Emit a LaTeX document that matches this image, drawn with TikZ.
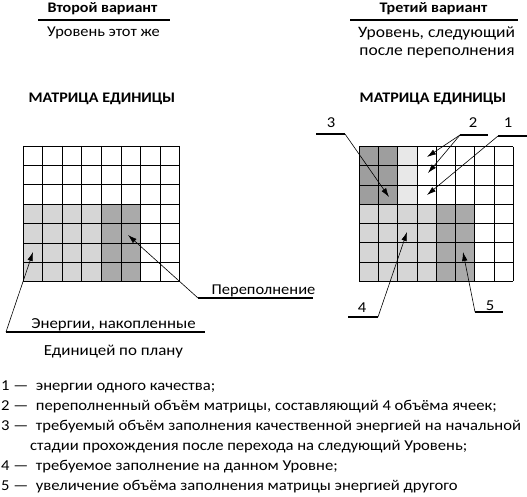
\documentclass[tikz,border=0pt]{standalone}
\usepackage{fontspec}
\setmainfont{Carlito}[FakeStretch=1.1]
\usetikzlibrary{arrows.meta}
\definecolor{cdark}{HTML}{9E9E9E}
\definecolor{cmid}{HTML}{AAAAAA}
\definecolor{clight}{HTML}{D6D6D6}
\definecolor{cpale}{HTML}{E8E8E8}
\newcommand{\fs}[1]{\fontsize{#1}{#1}\selectfont}
\begin{document}
\begin{tikzpicture}[x=1pt,y=-1pt,
  txt/.style={inner sep=0pt, font=\fs{15.1}},
  btxt/.style={inner sep=0pt, font=\fs{14.6}\bfseries},
  gridline/.style={line width=0.8pt, black},
  ptr/.style={-{Latex[length=9pt,width=5.5pt]}, line width=0.6pt},
  uline/.style={line width=1.3pt}]
\useasboundingbox (0,0) rectangle (527,497);

% ---------- headings ----------
\node[btxt, anchor=base] (h2) at (102.5,13) {Второй вариант};
\coordinate (h2a) at (38,20); \coordinate (h2b) at (170,20);
\draw[uline] (h2a) -- (h2b);
\node[txt, anchor=base, font=\fs{14.9}] (s2) at (103.5,37) {Уровень этот же};

\node[btxt, anchor=base] (h3) at (433.5,13) {Третий вариант};
\coordinate (h3a) at (350,20); \coordinate (h3b) at (518,20);
\draw[uline] (h3a) -- (h3b);
\node[txt, anchor=base, font=\fs{15.9}] (s3a) at (436.5,38) {Уровень, следующий};
\node[txt, anchor=base, font=\fs{15.9}] (s3b) at (437,56) {после переполнения};

\node[btxt, anchor=base] (m2) at (102,103) {МАТРИЦА ЕДИНИЦЫ};
\node[btxt, anchor=base] (m3) at (433,103) {МАТРИЦА ЕДИНИЦЫ};

% ---------- left grid ----------
\def\LX{23}\def\LY{146}\def\LW{19.6}\def\LH{19.4}
\fill[clight] (\LX,\LY+3*\LH) rectangle (\LX+4*\LW,\LY+7*\LH);
\fill[cmid] (\LX+4*\LW,\LY+3*\LH) rectangle (\LX+6*\LW,\LY+7*\LH);
\foreach \i in {0,...,8} \draw[gridline] (\LX+\i*\LW,\LY) -- (\LX+\i*\LW,\LY+7*\LH);
\foreach \j in {0,...,7} \draw[gridline] (\LX,\LY+\j*\LH) -- (\LX+8*\LW,\LY+\j*\LH);
\draw[line width=1.6pt] (\LX+6*\LW,\LY+3*\LH) -- (\LX+6*\LW,\LY+7*\LH);

\coordinate (tOver) at (128,235);
\coordinate (tEn) at (33,252);

\node[txt, anchor=base, font=\fs{15}] (lOver) at (263.5,294) {Переполнение};
\coordinate (oa) at (198,298); \coordinate (ob) at (313,298);
\draw[uline] (oa) -- (ob);
\draw[ptr] (oa) -- (tOver);

\node[txt, anchor=base, font=\fs{15.3}] (lEn) at (113.5,328) {Энергии, накопленные};
\coordinate (ea) at (6,332); \coordinate (eb) at (205,332);
\draw[uline] (ea) -- (eb);
\draw[ptr] (ea) -- (tEn);
\node[txt, anchor=base, font=\fs{15.4}] (lEn2) at (113.5,355) {Единицей по плану};

% ---------- right grid ----------
\def\RX{359.3}\def\RY{146.7}\def\RW{19.25}\def\RH{19.2}
\fill[cdark] (\RX,\RY) rectangle (\RX+2*\RW,\RY+3*\RH);
\fill[cpale] (\RX+2*\RW,\RY) rectangle (\RX+3*\RW,\RY+3*\RH);
\fill[clight] (\RX,\RY+3*\RH) rectangle (\RX+4*\RW,\RY+7*\RH);
\fill[cmid] (\RX+4*\RW,\RY+3*\RH) rectangle (\RX+6*\RW,\RY+7*\RH);
\foreach \i in {0,...,8} \draw[gridline] (\RX+\i*\RW,\RY) -- (\RX+\i*\RW,\RY+7*\RH);
\foreach \j in {0,...,7} \draw[gridline] (\RX,\RY+\j*\RH) -- (\RX+8*\RW,\RY+\j*\RH);

\coordinate (t3) at (389,197);
\coordinate (t2a) at (427,157);
\coordinate (t2b) at (428,173);
\coordinate (t1) at (427,195);
\coordinate (t4) at (407,232);
\coordinate (t5) at (463,252);

\node[txt, anchor=base] (n3) at (331,128) {3};
\coordinate (u3a) at (316,134); \coordinate (u3b) at (345,134);
\draw[uline] (u3a) -- (u3b);
\draw[ptr] (u3b) -- (t3);

\node[txt, anchor=base] (n2) at (473,128) {2};
\coordinate (u2a) at (460,135); \coordinate (u2b) at (488,135);
\draw[uline] (u2a) -- (u2b);
\draw[ptr] (u2a) -- (t2a);
\draw[ptr] (u2a) -- (t2b);

\node[txt, anchor=base] (n1) at (508,128) {1};
\coordinate (u1a) at (498,136); \coordinate (u1b) at (527,136);
\draw[uline] (u1a) -- (u1b);
\draw[ptr] (u1a) -- (t1);

\node[txt, anchor=base] (n4) at (362,312) {4};
\coordinate (u4a) at (348,317); \coordinate (u4b) at (378,317);
\draw[uline] (u4a) -- (u4b);
\draw[ptr] (u4b) -- (t4);

\node[txt, anchor=base] (n5) at (490,310) {5};
\coordinate (u5a) at (475,312); \coordinate (u5b) at (503,312);
\draw[uline] (u5a) -- (u5b);
\draw[ptr] (u5a) -- (t5);

% ---------- legend ----------
\node[txt, anchor=base west] (L1) at (1,390) {1 —\ \ энергии одного качества;};
\node[txt, anchor=base west] (L2) at (1,410) {2 —\ \ переполненный объём матрицы, составляющий 4 объёма ячеек;};
\node[txt, anchor=base west] (L3) at (1,430) {3 —\ \ требуемый объём заполнения качественной энергией на начальной};
\node[txt, anchor=base west] (L3b) at (30,450) {стадии прохождения после перехода на следующий Уровень;};
\node[txt, anchor=base west] (L4) at (1,470) {4 —\ \ требуемое заполнение на данном Уровне;};
\node[txt, anchor=base west] (L5) at (1,490) {5 —\ \ увеличение объёма заполнения матрицы энергией другого};
\end{tikzpicture}
\end{document}
